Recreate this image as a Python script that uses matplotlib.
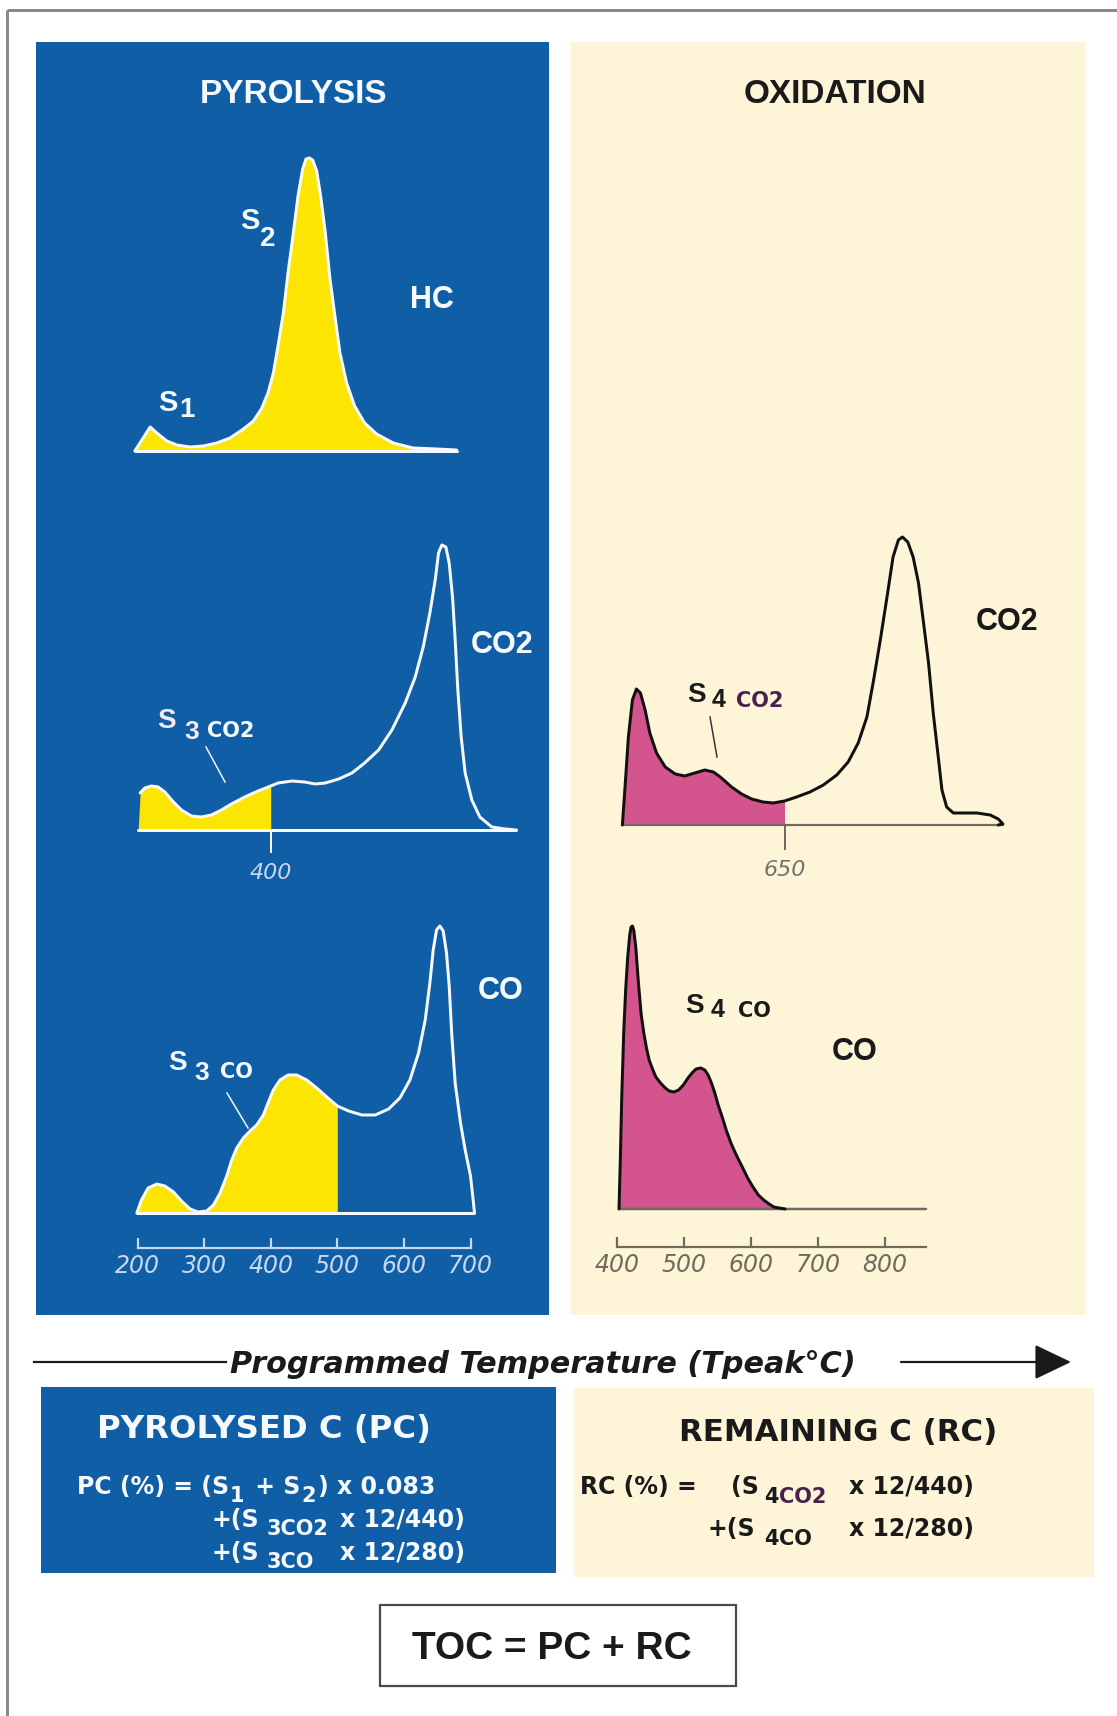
import numpy as np
import matplotlib
matplotlib.use("Agg")
import matplotlib.pyplot as plt
from matplotlib.patches import Rectangle, FancyArrowPatch

# ---------------- data ----------------
# Pyrolysis, HC trace (S1 and S2 peaks): temperature (C) / signal (a.u.)
HC_T = [196, 219, 229, 244, 259, 279, 299, 319, 339, 359, 374, 386, 396, 404,
        411, 419, 426, 434, 441, 448, 453, 458, 463, 469, 475, 482, 489, 497,
        504, 514, 526, 541, 559, 584, 614, 649, 679]
HC_I = [0, 24, 18, 10, 6, 4, 5, 8, 13, 22, 30, 42, 58, 78,
        105, 138, 178, 218, 255, 282, 292, 293, 291, 280, 255, 218, 172, 132,
        98, 68, 45, 28, 17, 8, 3, 2, 1]

# Pyrolysis, CO2 trace (S3CO2 = area below 400 C)
PYR_CO2_T = [201, 204, 211, 221, 231, 241, 254, 266, 281, 296, 311, 326, 341, 361,
             381, 400, 411, 432, 451, 467, 482, 502, 522, 541, 562, 582, 602, 617,
             629, 639, 647, 652, 657, 663, 668, 673, 677, 681, 686, 692, 702, 714,
             732, 752, 769]
PYR_CO2_I = [0, 37, 42, 44, 43, 38, 28, 20, 14, 13, 15, 20, 26, 33,
             39, 44, 47, 49, 48, 46, 47, 51, 57, 67, 80, 100, 127, 153,
             183, 217, 250, 277, 285, 283, 267, 233, 190, 140, 93, 57, 30, 13,
             3, 1, 0]
PYR_CO2_CUT = 400

# Pyrolysis, CO trace (S3CO = area below 500 C)
PYR_CO_T = [199, 206, 216, 229, 241, 254, 266, 279, 291, 304, 314, 324, 334, 341,
            349, 359, 369, 379, 389, 396, 404, 414, 426, 439, 454, 469, 486, 500,
            517, 537, 557, 577, 594, 609, 622, 632, 639, 644, 649, 654, 659, 664,
            668, 672, 677, 685, 692, 700, 704, 706]
PYR_CO_I = [0, 13, 25, 29, 27, 21, 12, 4, 1, 2, 8, 20, 37, 52,
            65, 75, 82, 88, 98, 110, 123, 133, 138, 138, 133, 125, 115, 107,
            102, 98, 98, 104, 115, 133, 160, 193, 230, 263, 283, 287, 282, 260,
            227, 177, 130, 90, 63, 37, 13, 0]
PYR_CO_CUT = 500
PYR_TICKS = [200, 300, 400, 500, 600, 700]

# Oxidation, CO2 trace (S4CO2 = area below 650 C)
OX_CO2_T = [408, 412, 417, 423, 429, 435, 442, 449, 459, 472, 487, 501, 516, 531,
            544, 556, 571, 586, 601, 618, 633, 650, 668, 688, 708, 728, 745, 760,
            773, 783, 793, 803, 812, 820, 826, 834, 842, 850, 857, 865, 872, 880,
            885, 892, 902, 917, 937, 957, 969, 976, 969]
OX_CO2_I = [0, 38, 88, 125, 136, 132, 115, 92, 72, 58, 51, 49, 52, 55,
            53, 47, 38, 31, 26, 23, 22, 24, 28, 33, 40, 50, 63, 82,
            108, 145, 185, 228, 268, 285, 288, 283, 268, 242, 205, 162, 112, 65,
            35, 18, 12, 12, 12, 10, 6, 1, 0]
OX_CO2_CUT = 650

# Oxidation, CO trace (S4CO = whole area)
OX_CO_T = [403, 405, 407, 410, 413, 416, 419, 421, 423, 425, 428, 432, 436, 440,
           444, 448, 453, 458, 465, 472, 478, 485, 492, 499, 506, 512, 518, 525,
           531, 536, 541, 546, 551, 557, 563, 570, 578, 587, 595, 603, 611, 619,
           627, 634, 642, 651]
OX_CO_I = [0, 50, 110, 176, 220, 252, 274, 282, 283, 279, 262, 226, 195, 176,
           161, 149, 140, 132, 126, 121, 118, 117, 119, 124, 131, 136, 140, 141,
           139, 134, 126, 116, 104, 92, 79, 66, 54, 42, 31, 22, 14, 9,
           5, 2, 1, 0]
OX_TICKS = [400, 500, 600, 700, 800]
OX_AXIS_END = 861

# ---------------- style ----------------
BLUE = '#0F5EA6'
CREAM = '#FEF5D9'
YELLOW = '#FCE500'
MAGENTA = '#D4548D'
WHITE = '#F6F9FF'
DARK = '#1A1A1A'
PURPLE = '#4A1F4E'
TF = ['Liberation Sans', 'DejaVu Sans']   # label font
FF = ['DejaVu Sans']                      # formula / wide font

plt.rcParams['font.family'] = TF

W, H, DPI = 1117, 1716, 100
fig = plt.figure(figsize=(W / DPI, H / DPI), dpi=DPI)
fig.patch.set_facecolor('white')
bg = fig.add_axes([0, 0, 1, 1])
bg.set_xlim(0, W)
bg.set_ylim(H, 0)
bg.axis('off')
renderer = fig.canvas.get_renderer()

PX = 72.0 / DPI  # points per pixel


def rect(x0, y0, x1, y1, **kw):
    bg.add_patch(Rectangle((x0, y0), x1 - x0, y1 - y0, **kw))


def txt(x, yc, s, size, color, weight='bold', style='normal', ha='center', family=None):
    # yc = visual centre of capital letters
    base = yc + 0.362 * size / PX
    return bg.text(x, base, s, fontsize=size, color=color, fontweight=weight,
                   fontstyle=style, ha=ha, va='baseline', family=family or TF)


def seq(x, yc, parts, family=FF):
    # parts: (text, size, dy, color, gap) placed one after another
    for s, size, dy, color, gap in parts:
        x += gap
        t = txt(x, yc + dy, s, size, color, ha='left', family=family)
        x = t.get_window_extent(renderer).x1


# outer frame (top + left)
bg.plot([7, W], [10, 10], color='#8a8a8a', lw=3 * PX, solid_capstyle='butt')
bg.plot([7, 7], [10, H], color='#8a8a8a', lw=3 * PX, solid_capstyle='butt')

# panels
rect(36, 42, 549, 1315, facecolor=BLUE, edgecolor='none')
rect(571, 42, 1085, 1315, facecolor=CREAM, edgecolor='none')
rect(41, 1387, 556, 1573, facecolor=BLUE, edgecolor='none')
rect(574, 1388, 1094, 1577, facecolor=CREAM, edgecolor='none')
rect(380, 1605, 736, 1686, facecolor='white', edgecolor='#4a4a4a', lw=2.2 * PX)

# temperature -> pixel scales of the two columns
PYR_X0, PYR_T0, PYR_K = 137.5, 200.0, 0.666
OX_X0, OX_T0, OX_K = 617.0, 400.0, 0.67


def chart_ax(px_left, px_right, x0, t0, k, base_y, up=330, down=70):
    tl = t0 + (px_left - x0) / k
    tr = t0 + (px_right - x0) / k
    ax = fig.add_axes([px_left / W, 1 - (base_y + down) / H,
                       (px_right - px_left) / W, (up + down) / H])
    ax.set_xlim(tl, tr)
    ax.set_ylim(-down, up)
    ax.patch.set_alpha(0)
    for s in ax.spines.values():
        s.set_visible(False)
    ax.set_xticks([])
    ax.set_yticks([])
    return ax


def style_ticklabels(ax):
    for lab in ax.get_xticklabels():
        lab.set_fontstyle('italic')
        lab.set_fontfamily(FF)


LW = 3 * PX

# ---- Pyrolysis HC ----
ax = chart_ax(100, 540, PYR_X0, PYR_T0, PYR_K, 451)
T, I = np.array(HC_T, float), np.array(HC_I, float)
ax.fill_between(T, 0, I, color=YELLOW, lw=0)
ax.plot([T[0], T[-1]], [0, 0], color=WHITE, lw=LW, solid_capstyle='round')
ax.plot(T, I, color=WHITE, lw=LW, solid_joinstyle='round', solid_capstyle='round')

# ---- Pyrolysis CO2 ----
ax = chart_ax(100, 540, PYR_X0, PYR_T0, PYR_K, 830)
T, I = np.array(PYR_CO2_T, float), np.array(PYR_CO2_I, float)
ax.fill_between(T, 0, I, where=T <= PYR_CO2_CUT, color=YELLOW, lw=0)
ax.plot([T[0], T[-1]], [0, 0], color=WHITE, lw=LW, solid_capstyle='round')
ax.plot(T[1:], I[1:], color=WHITE, lw=LW, solid_joinstyle='round', solid_capstyle='round')
ax.spines['bottom'].set_position(('data', 0))
ax.set_xticks([PYR_CO2_CUT])
ax.set_xticklabels([str(PYR_CO2_CUT)])
ax.tick_params(axis='x', direction='out', length=23 * PX, width=2 * PX, color=WHITE,
               labelcolor='#C9D8F0', labelsize=16, pad=10 * PX)
style_ticklabels(ax)

# ---- Pyrolysis CO ----
ax = chart_ax(100, 540, PYR_X0, PYR_T0, PYR_K, 1213)
T, I = np.array(PYR_CO_T, float), np.array(PYR_CO_I, float)
ax.fill_between(T, 0, I, where=T <= PYR_CO_CUT, color=YELLOW, lw=0)
ax.plot([T[0], T[-1]], [0, 0], color=WHITE, lw=LW, solid_capstyle='round')
ax.plot(T, I, color=WHITE, lw=LW, solid_joinstyle='round', solid_capstyle='round')
sp = ax.spines['bottom']
sp.set_visible(True)
sp.set_position(('data', -35))
sp.set_bounds(PYR_TICKS[0], PYR_TICKS[-1])
sp.set_color('#C9D8F0')
sp.set_linewidth(2.2 * PX)
ax.set_xticks(PYR_TICKS)
ax.set_xticklabels([str(t) for t in PYR_TICKS])
ax.tick_params(axis='x', direction='in', length=10 * PX, width=2.2 * PX, color='#C9D8F0',
               labelcolor='#C9D8F0', labelsize=17, pad=6 * PX)
style_ticklabels(ax)

# ---- Oxidation CO2 ----
ax = chart_ax(580, 1080, OX_X0, OX_T0, OX_K, 825)
T, I = np.array(OX_CO2_T, float), np.array(OX_CO2_I, float)
ax.fill_between(T[:22], 0, I[:22], where=T[:22] <= OX_CO2_CUT, color=MAGENTA, lw=0)
ax.plot([T[0], T.max()], [0, 0], color='#6E6A5C', lw=2.2 * PX, solid_capstyle='round')
ax.plot(T, I, color='#111111', lw=LW, solid_joinstyle='round', solid_capstyle='round')
ax.spines['bottom'].set_position(('data', 0))
ax.set_xticks([OX_CO2_CUT])
ax.set_xticklabels([str(OX_CO2_CUT)])
ax.tick_params(axis='x', direction='out', length=25 * PX, width=2 * PX, color='#6E6A5C',
               labelcolor='#707070', labelsize=16, pad=10 * PX)
style_ticklabels(ax)

# ---- Oxidation CO ----
ax = chart_ax(580, 1080, OX_X0, OX_T0, OX_K, 1209)
T, I = np.array(OX_CO_T, float), np.array(OX_CO_I, float)
ax.fill_between(T, 0, I, color=MAGENTA, lw=0)
ax.plot([T[0], OX_AXIS_END], [0, 0], color='#6E6A5C', lw=2.5 * PX, solid_capstyle='round')
ax.plot(T, I, color='#111111', lw=LW, solid_joinstyle='round', solid_capstyle='round')
sp = ax.spines['bottom']
sp.set_visible(True)
sp.set_position(('data', -38))
sp.set_bounds(OX_TICKS[0], OX_AXIS_END)
sp.set_color('#6E6A5C')
sp.set_linewidth(2.2 * PX)
ax.set_xticks(OX_TICKS)
ax.set_xticklabels([str(t) for t in OX_TICKS])
ax.tick_params(axis='x', direction='in', length=10 * PX, width=2.2 * PX, color='#6E6A5C',
               labelcolor='#6E6A5C', labelsize=17, pad=6 * PX)
style_ticklabels(ax)

# ---------------- labels ----------------
txt(293, 91, 'PYROLYSIS', 24, WHITE)
txt(835, 91, 'OXIDATION', 24, DARK)

txt(250, 218, 'S', 21, WHITE)
txt(268, 236, '2', 20, WHITE)
txt(168, 400, 'S', 21, WHITE)
txt(187, 407, '1', 20, WHITE)
txt(432, 297, 'HC', 22, WHITE)

txt(166, 718, 'S', 20, '#F3EAF3')
txt(192, 729, '3', 19, '#F3EAF3')
txt(231, 729, 'CO2', 15, WHITE, family=FF)
bg.plot([206, 225], [747, 782], color=WHITE, lw=1.5 * PX)
txt(502, 642, 'CO2', 22, WHITE)

txt(177, 1060, 'S', 20, WHITE)
txt(202, 1070, '3', 19, WHITE)
txt(236, 1070, 'CO', 15, WHITE, family=FF)
bg.plot([227, 248], [1093, 1128], color=WHITE, lw=1.5 * PX)
txt(501, 988, 'CO', 22, WHITE)

txt(696, 692, 'S', 20, DARK)
txt(719, 698, '4', 18, DARK)
txt(760, 699, 'CO2', 15, PURPLE, family=FF)
bg.plot([710, 717], [717, 757], color='#333333', lw=1.5 * PX)
txt(1007, 619, 'CO2', 22, DARK)

txt(694, 1003, 'S', 20, DARK)
txt(718, 1008, '4', 18, DARK)
txt(754, 1009, 'CO', 15, DARK, family=FF)
txt(855, 1049, 'CO', 22, DARK)

# ---------------- temperature arrow ----------------
bg.plot([34, 226], [1362, 1362], color=DARK, lw=2.2 * PX)
txt(543, 1362, 'Programmed Temperature (Tpeak\u00b0C)', 21.8, DARK, style='italic', family=FF)
bg.add_patch(FancyArrowPatch((901, 1362), (1071, 1362),
                             arrowstyle='-|>,head_length=1.15,head_width=0.55',
                             mutation_scale=20, color=DARK, lw=2.2 * PX,
                             shrinkA=0, shrinkB=0))

# ---------------- formula boxes ----------------
txt(264, 1426, 'PYROLYSED C (PC)', 23.2, WHITE, family=FF)
FS, FSS = 17, 15
SUB = 9
seq(77, 1485, [('PC (%) = (S', FS, 0, WHITE, 0),
               ('1', FSS, SUB, WHITE, 1),
               (' + S', FS, 0, WHITE, 2),
               ('2', FSS, SUB, WHITE, 1),
               (') x 0.083', FS, 0, WHITE, 2)])
txt(211, 1518, '+(S', FS, WHITE, ha='left', family=FF)
txt(267, 1518 + SUB, '3CO2', FSS, WHITE, ha='left', family=FF)
txt(340, 1518, 'x 12/440)', FS, WHITE, ha='left', family=FF)
txt(211, 1551, '+(S', FS, WHITE, ha='left', family=FF)
txt(267, 1551 + SUB, '3CO', FSS, WHITE, ha='left', family=FF)
txt(340, 1551, 'x 12/280)', FS, WHITE, ha='left', family=FF)

txt(838, 1430, 'REMAINING C (RC)', 22.2, DARK, family=FF)
txt(580, 1485, 'RC (%) =', FS, DARK, ha='left', family=FF)
txt(731, 1485, '(S', FS, DARK, ha='left', family=FF)
seq(764, 1485 + SUB + 1, [('4', FSS, 0, DARK, 0), ('CO2', FSS, 0, PURPLE, 1)])
txt(849, 1485, 'x 12/440)', FS, DARK, ha='left', family=FF)
txt(708, 1527, '+(S', FS, DARK, ha='left', family=FF)
seq(764, 1527 + SUB + 1, [('4', FSS, 0, DARK, 0), ('CO', FSS, 0, DARK, 1)])
txt(849, 1527, 'x 12/280)', FS, DARK, ha='left', family=FF)

txt(552, 1645, 'TOC = PC + RC', 28, DARK)

fig.savefig('out.png', dpi=DPI, facecolor='white')
